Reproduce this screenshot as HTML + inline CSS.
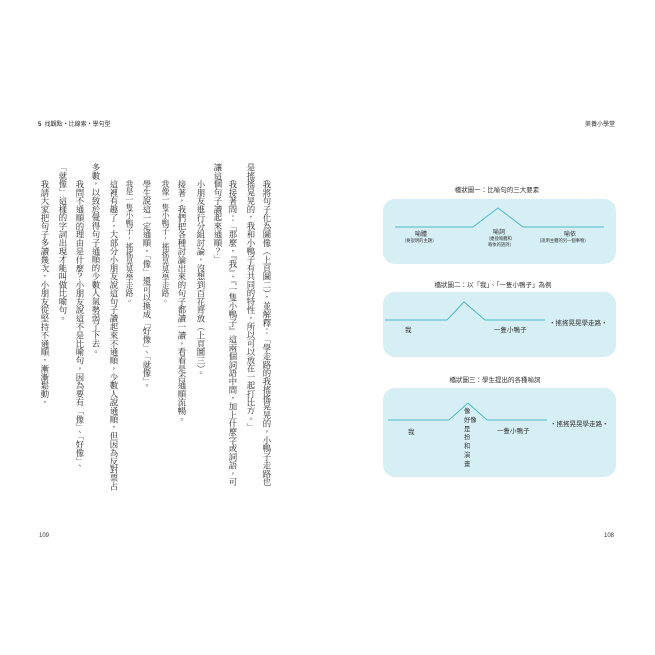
<!DOCTYPE html>
<html><head><meta charset="utf-8"><style>
body{margin:0;width:655px;height:655px;background:#fff;position:relative;overflow:hidden;font-family:"Liberation Serif","Noto Serif CJK TC","Noto Serif CJK SC",serif;color:#222}
.c{position:absolute;writing-mode:vertical-rl;font-size:8.4px;line-height:9px;white-space:nowrap;letter-spacing:0}
.k{font-size:7.8px;color:#333}
.s{position:absolute;font-family:"Liberation Sans","Noto Sans CJK TC",sans-serif;color:#333;white-space:nowrap}
.box{position:absolute;background:#d6eff5;border-radius:12px;left:383px;width:233px}
</style></head><body>
<div class="s" style="left:38px;top:119px;font-size:6px"><b>5</b>&nbsp;&nbsp;找觀點・比線索・學句型</div>
<div class="s" style="left:585px;top:119px;font-size:6px">美養小學堂</div>
<div class="s" style="left:39px;top:533px;font-size:6px">109</div>
<div class="s" style="left:604px;top:533px;font-size:6px">108</div>

<div class="c" style="left:262px;top:180px">我將句子化為圖像（上頁圖二），並解釋：「學走路的我搖搖晃晃的，小鴨子走路也</div>
<div class="c" style="left:246px;top:163px">是搖搖晃晃的，我和小鴨子有共同的特性，所以可以放在一起打比方。」</div>
<div class="c" style="left:228px;top:180px">我接著問：「那麼，『我』、『一隻小鴨子』這兩個詞語中間，加上什麼字或詞語，可</div>
<div class="c" style="left:213px;top:163px">讓這個句子讀起來通順？」</div>
<div class="c" style="left:196px;top:180px">小朋友進行分組討論，沒想到百花齊放（上頁圖三）。</div>
<div class="c" style="left:177px;top:180px">接著，我們把各種討論出來的句子都讀一讀，看看是否通順流暢。</div>
<div class="c k" style="left:161px;top:180px">我像一隻小鴨子，搖搖晃晃學走路。</div>
<div class="c" style="left:142px;top:180px">學生說這一定通順，「像」還可以換成「好像」、「就像」。</div>
<div class="c k" style="left:125px;top:180px">我是一隻小鴨子，搖搖晃晃學走路。</div>
<div class="c" style="left:109px;top:180px">這裡有趣了，大部分小朋友說這句子讀起來不通順，少數人說通順，但因為反對票占</div>
<div class="c" style="left:91px;top:163px">多數，以致於覺得句子通順的少數人氣勢弱了下去。</div>
<div class="c" style="left:75px;top:180px">我問不通順的理由是什麼？小朋友說這不是比喻句，因為要有「像」、「好像」、</div>
<div class="c" style="left:58px;top:163px">「就像」這樣的字詞出現才能叫做比喻句。</div>
<div class="c" style="left:40px;top:180px">我請大家把句子多讀幾次，小朋友從堅持不通順，漸漸鬆動，</div>

<div class="s" style="left:430px;top:184px;width:134px;text-align:center;font-size:6.5px">橋狀圖一：比喻句的三大要素</div>
<div class="box" style="top:199px;height:65px"></div>
<div class="s" style="left:406px;top:283px;width:174px;text-align:center;font-size:6.5px;top:279px">橋狀圖二：以「我」、「一隻小鴨子」為例</div>
<div class="box" style="top:292px;height:65px"></div>
<div class="s" style="left:430px;top:374px;width:130px;text-align:center;font-size:6.5px">橋狀圖三：學生提出的各種喻詞</div>
<div class="box" style="top:388px;height:89px"></div>

<svg style="position:absolute;left:0;top:0" width="655" height="655">
<g fill="none" stroke="#4fb8c5" stroke-width="1">
<polyline points="395,227 473,227 498,208 523,227 604,227"/>
<polyline points="385,320 447,320 464,302 485,320 545,320"/>
<polyline points="388,420 449,420 468,403 487,420 547,420"/>
</g>
</svg>
<div class="s" style="left:415px;top:229px;font-size:6px">喻體</div>
<div class="s" style="left:402px;top:238px;font-size:4.3px">（要說明的主題）</div>
<div class="s" style="left:493px;top:227px;font-size:6px">喻詞</div>
<div class="s" style="left:486px;top:236px;font-size:4.3px">（連接喻體和</div>
<div class="s" style="left:488px;top:242px;font-size:4.3px">喻依的語詞）</div>
<div class="s" style="left:564px;top:229px;font-size:6px">喻依</div>
<div class="s" style="left:537px;top:238px;font-size:4.3px">（說明主體的另一個事物）</div>

<div class="s" style="left:405px;top:324px;font-size:6.5px">我</div>
<div class="s" style="left:494px;top:324px;font-size:6.5px">一隻小鴨子</div>
<div class="s" style="left:549px;top:317px;font-size:6.5px">‧搖搖晃晃學走路‧</div>

<div class="s" style="left:408px;top:426px;font-size:6.5px">我</div>
<div class="s" style="left:497px;top:425px;font-size:6.5px">一隻小鴨子</div>
<div class="s" style="left:550px;top:418px;font-size:6.5px">‧搖搖晃晃學走路‧</div>
<div class="s" style="left:464px;top:408px;font-size:6.3px;line-height:8.8px">像<br>好像<br>是<br>扮<br>和<br>演<br>畫</div>
</body></html>
